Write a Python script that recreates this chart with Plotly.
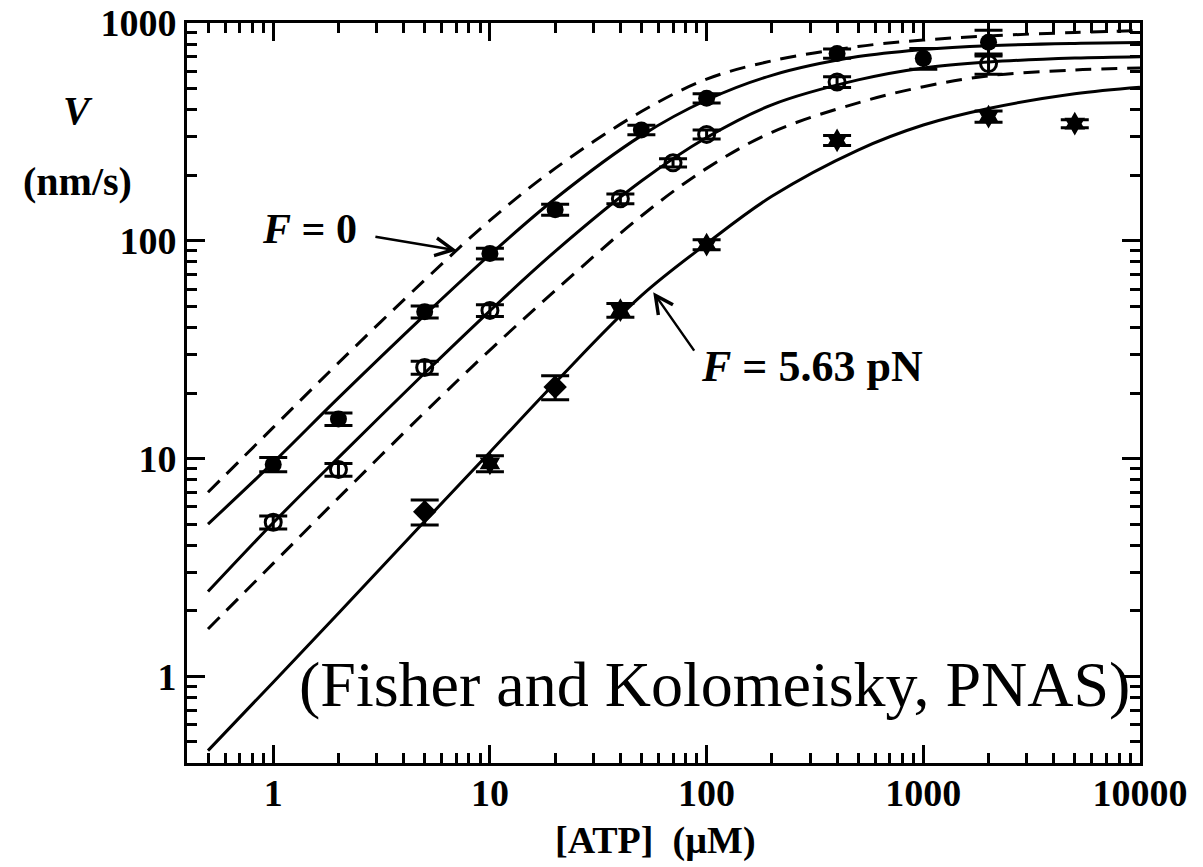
import math
import plotly.graph_objects as go

# ---- data -------------------------------------------------------------
# [ATP] grid (uM) at which the model velocity curves are tabulated
ATP_CURVE = [0.5, 1, 2, 5, 10, 20, 50, 100, 200, 500, 1000, 2000, 5000, 10000]

# model velocity curves V([ATP]) in nm/s
V_ZERO_LOAD = [7.0, 13.9, 27.5, 66, 124, 215, 392, 552, 670, 780, 835, 872, 905, 922]      # dashed, F = 0
V_FIT_FILLED = [5.0, 9.6, 19.0, 45.6, 86.3, 156, 304, 443, 575, 701, 756, 787, 806, 813]   # solid
V_FIT_OPEN = [2.45, 5.07, 10.1, 24.7, 47.7, 89.4, 188, 298, 421, 548, 622, 662, 690, 700]  # solid
V_DASHED_LOW = [1.65, 3.3, 6.6, 16.3, 31.5, 59, 130, 215, 315, 430, 510, 572, 608, 622]    # dashed
V_FIT_563 = [0.456, 0.94, 1.95, 5.15, 10.7, 22.3, 56, 97, 160, 261, 340, 405, 473, 507]    # solid, F = 5.63 pN

# measured velocities with error bars
ATP_FILLED = [1, 2, 5, 10, 20, 50, 100, 400, 1000, 2000]
V_FILLED = [9.4, 15.2, 47.2, 87.4, 139, 323, 451, 724, 688, 816]
ERR_FILLED = [0.7, 1.0, 3.0, 5.0, 8, 16, 22, 35, 75, 110]

ATP_OPEN = [1, 2, 5, 10, 40, 70, 100, 400, 2000]
V_OPEN = [5.1, 8.9, 26.2, 47.9, 156, 228, 308, 536, 651]
ERR_OPEN = [0.35, 0.6, 1.8, 3.0, 8, 10, 15, 30, 70]

ATP_563 = [5, 10, 20, 40, 100, 400, 2000, 5000]
V_563 = [5.7, 9.5, 21.3, 48, 96, 289, 372, 345]
ERR_563 = [0.75, 0.8, 2.7, 3.5, 5, 15, 22, 15]
SYM_563 = ["diamond", "hexagram", "diamond", "hexagram", "hexagram", "hexagram", "hexagram", "hexagram"]

X_TICKS = [1, 10, 100, 1000, 10000]
Y_TICKS = [1, 10, 100, 1000]

# ---- layout geometry ----------------------------------------------------
W, H = 1203, 867
ML, MR, MT, MB = 187, 63, 23, 104
PW, PH = W - ML - MR, H - MT - MB
SERIF = "Liberation Serif"


def px_to_paper(px, py):
    return (px - ML) / PW, (H - MB - py) / PH


def minor_vals(lo, hi):
    vals = []
    for k in range(-1, 5):
        for m in range(2, 10):
            v = m * 10 ** k
            if lo < v < hi:
                vals.append(v)
    return vals


fig = go.Figure()

# model curves
curve_style = dict(color="black", width=3)
for vals, dash in [(V_ZERO_LOAD, "16px,10px"), (V_FIT_FILLED, "solid"), (V_FIT_OPEN, "solid"),
                   (V_DASHED_LOW, "16px,10px"), (V_FIT_563, "solid")]:
    fig.add_trace(go.Scatter(x=ATP_CURVE, y=vals, mode="lines", line_shape="spline",
                             line=dict(curve_style, dash=dash), showlegend=False,
                             hoverinfo="skip"))

err_style = dict(type="data", thickness=3, width=14, color="black")

fig.add_trace(go.Scatter(x=ATP_FILLED, y=V_FILLED, mode="markers",
                         marker=dict(symbol="circle", size=17, color="black"),
                         error_y=dict(err_style, array=ERR_FILLED), showlegend=False))
fig.add_trace(go.Scatter(x=ATP_OPEN, y=V_OPEN, mode="markers",
                         marker=dict(symbol="circle-open", size=16, color="black",
                                     line=dict(width=3, color="black")),
                         error_y=dict(err_style, array=ERR_OPEN), showlegend=False))
fig.add_trace(go.Scatter(x=ATP_563, y=V_563, mode="markers",
                         marker=dict(symbol=SYM_563, size=18, color="black"),
                         error_y=dict(err_style, array=ERR_563), showlegend=False))

axis_common = dict(
    type="log", showline=True, linewidth=3, linecolor="black", mirror="ticks",
    ticks="inside", ticklen=18, tickwidth=3, tickcolor="black",
    showgrid=False, zeroline=False, automargin=False,
    tickfont=dict(family=SERIF, size=38, color="black", weight="bold"),
)

fig.update_xaxes(axis_common, range=[math.log10(0.4), 4], tickvals=X_TICKS,
                 ticktext=[str(v) for v in X_TICKS], ticklabelstandoff=-6,
                 minor=dict(tickvals=minor_vals(0.4, 10000), ticks="inside", ticklen=10,
                            tickwidth=2.5, tickcolor="black", showgrid=False))
fig.update_yaxes(axis_common, range=[math.log10(0.4), 3], tickvals=Y_TICKS,
                 ticktext=[str(v) for v in Y_TICKS],
                 minor=dict(tickvals=minor_vals(0.4, 1000), ticks="inside", ticklen=10,
                            tickwidth=2.5, tickcolor="black", showgrid=False))

annotations = []


def text_at(px, py, text, size, bold=True, xanchor="center"):
    x, y = px_to_paper(px, py)
    annotations.append(dict(
        x=x, y=y, xref="paper", yref="paper", text=text, showarrow=False,
        xanchor=xanchor, yanchor="middle",
        font=dict(family=SERIF, size=size, color="black", weight="bold" if bold else "normal")))


text_at(78, 110, "<i>V</i>", 40)
text_at(77, 181, "(nm/s)", 40)
text_at(655, 840, "[ATP] \u00a0(\u00b5M)", 38)
text_at(309, 229, "<i>F</i> = 0", 42)
text_at(812, 366, "<i>F</i> = 5.63 pN", 44)
text_at(297, 684, "(Fisher and Kolomeisky, PNAS)", 64, bold=False, xanchor="left")

# arrows pointing at the F = 0 and F = 5.63 pN curves (tip in data units)
ARROWS = [
    (7.04, 90.3, -83, -14),
    (56.7, 58.1, 42, 60),
]
for ax_x, ax_y, dx, dy in ARROWS:
    annotations.append(dict(
        x=math.log10(ax_x), y=math.log10(ax_y), xref="x", yref="y", text="",
        showarrow=True, arrowhead=5, arrowsize=1.4, arrowwidth=2.5, arrowcolor="black",
        ax=dx, ay=dy, axref="pixel", ayref="pixel"))

fig.update_layout(
    width=W, height=H, autosize=False,
    margin=dict(l=ML, r=MR, t=MT, b=MB),
    paper_bgcolor="white", plot_bgcolor="white",
    annotations=annotations,
    showlegend=False,
)

fig.write_html("out.html")
